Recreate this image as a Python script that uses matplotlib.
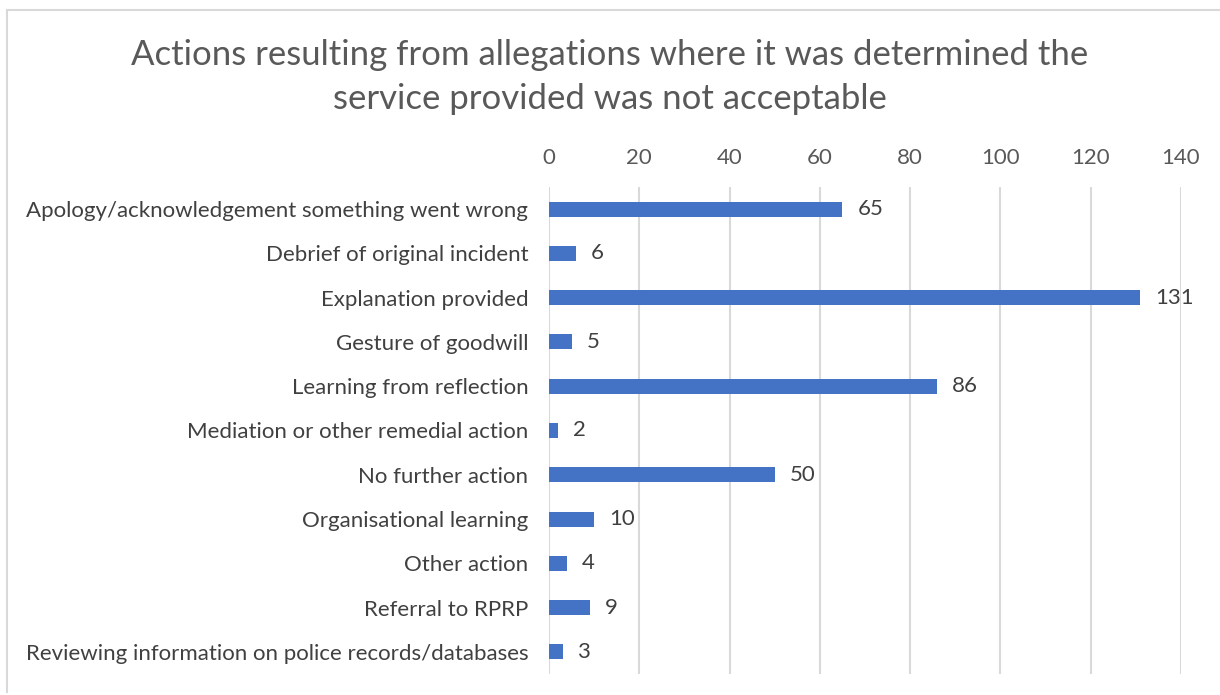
import matplotlib.pyplot as plt
from matplotlib.lines import Line2D

categories = [
    "Apology/acknowledgement something went wrong",
    "Debrief of original incident",
    "Explanation provided",
    "Gesture of goodwill",
    "Learning from reflection",
    "Mediation or other remedial action",
    "No further action",
    "Organisational learning",
    "Other action",
    "Referral to RPRP",
    "Reviewing information on police records/databases",
]
counts = [65, 6, 131, 5, 86, 2, 50, 10, 4, 9, 3]
xticks = [0, 20, 40, 60, 80, 100, 120, 140]

plt.rcParams['font.family'] = ['Lato', 'DejaVu Sans']

fig = plt.figure(figsize=(12.2, 6.95), dpi=100)
ax = fig.add_axes([549 / 1220, 1 - 674 / 695, 632 / 1220, 487 / 695])

y = list(range(len(categories)))
ax.barh(y, counts, height=0.34, color='#4472C4', zorder=3)
for yi, v in zip(y, counts):
    ax.text(v + 3.3, yi, str(v), va='center', ha='left', fontsize=16, color='#404040')

ax.set_xlim(0, 140)
ax.set_ylim(len(categories) - 0.5, -0.5)
ax.set_xticks(xticks)
ax.set_yticks(y)
ax.set_yticklabels(categories)
ax.xaxis.tick_top()
ax.tick_params(axis='both', length=0, labelsize=16, colors='#595959')
ax.tick_params(axis='x', pad=14)
ax.tick_params(axis='y', labelcolor='#404040', pad=15)
ax.grid(axis='x', color='#D9D9D9', linewidth=1.5, zorder=0)
for s in ax.spines.values():
    s.set_visible(False)

fig.text(0.5, 1 - 77 / 695,
         "Actions resulting from allegations where it was determined the\nservice provided was not acceptable",
         ha='center', va='center', fontsize=25, color='#595959', linespacing=1.45)

# thin frame on the top and left edges
fig.add_artist(Line2D([7 / 1220, 1], [1 - 10 / 695, 1 - 10 / 695],
                      transform=fig.transFigure, color='#D9D9D9', linewidth=1.5))
fig.add_artist(Line2D([7 / 1220, 7 / 1220], [1 - 10 / 695, 1 - 692 / 695],
                      transform=fig.transFigure, color='#D9D9D9', linewidth=1.5))

fig.savefig('out.png', dpi=100)
